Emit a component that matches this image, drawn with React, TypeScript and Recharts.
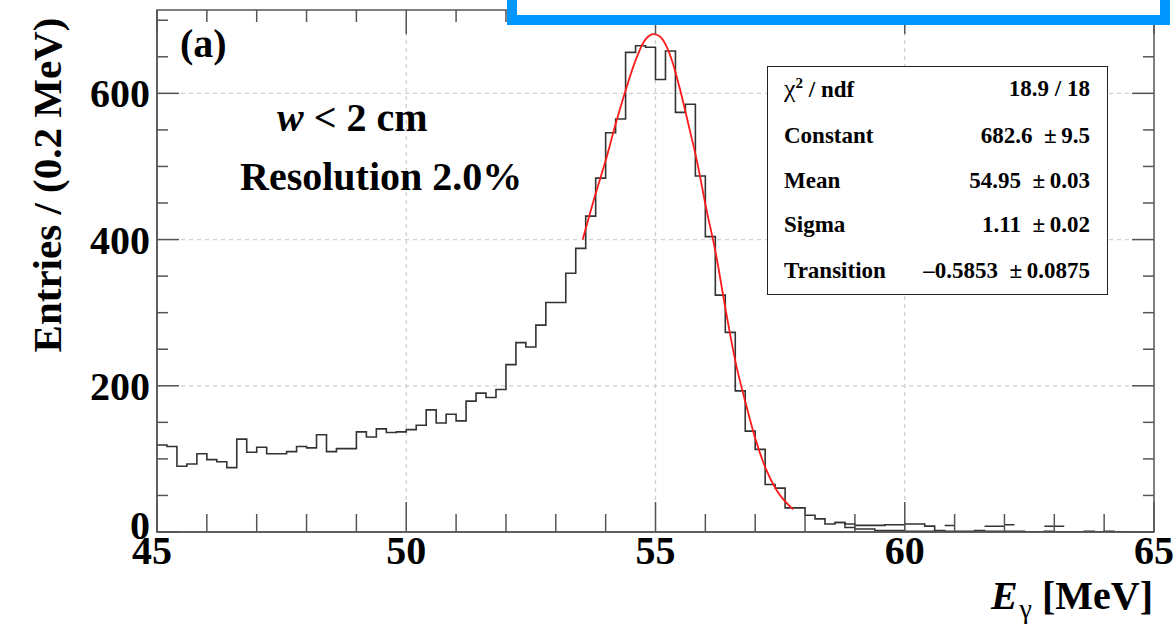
import { ComposedChart, Line, XAxis, YAxis, ReferenceLine, ReferenceArea } from 'recharts'

const W = 1176
const H = 625
const AX_H = 60
const AX_W = 60
const M = { top: 10, right: 22, bottom: 93 - AX_H, left: 157 - AX_W }
const PLOT_RIGHT = W - M.right

const X_MIN = 45
const X_MAX = 65
const BIN = 0.2
const Y_MAX = 714

const SERIF = '"Liberation Serif", "Times New Roman", serif'
const AXIS = '#555'

// entries per 0.2 MeV bin, 45.0 .. 65.0 MeV (100 bins)
const entries = [
  119, 117, 90, 93, 107, 99, 96, 88, 127, 109,
  116, 107, 107, 110, 117, 115, 133, 110, 114, 114,
  137, 130, 141, 136, 137, 140, 146, 167, 149, 161,
  152, 179, 190, 184, 195, 229, 259, 253, 283, 314,
  314, 354, 388, 432, 484, 546, 565, 656, 665, 663,
  619, 658, 574, 585, 487, 404, 324, 273, 193, 138,
  113, 65, 60, 33, 33, 23, 18, 11, 13, 11,
  9, 9, 9, 10, 10, 11, 11, 8, 2, 1,
  1, 1, 2, 1, 1, 1, 1, 0, 0, 1,
  0, 0, 0, 1, 0, 1, 0, 0, 0, 0,
]

// lower tail line that splits off the histogram at 58.6 MeV
const lowerStart = 58.6
const lowerEntries = [13, 6, 4, 4, 2, 2, 2, 1, 1, 1, 2]

// small isolated bars in the far tail
const barFrom = [60.8, 61.6, 62.0, 62.8]
const barTo = [61.0, 62.0, 62.2, 63.2]
const barVal = [9, 8, 10, 8]

// fitted curve
const fitE = [53.54, 53.8, 54.0, 54.2, 54.4, 54.6, 54.76, 54.86, 54.96, 55.06, 55.16, 55.33, 55.49, 55.69, 55.83, 56.01, 56.21, 56.41, 56.61, 56.81, 57.01, 57.21, 57.43, 57.76]
const fitN = [400, 463, 508, 558, 604, 645, 670, 678, 681, 679, 672, 645, 606, 549, 508, 445, 381, 303, 231, 176, 126, 87, 57, 31]

const xTicks = [45, 46, 47, 48, 49, 50, 51, 52, 53, 54, 55, 56, 57, 58, 59, 60, 61, 62, 63, 64, 65]
const yTicks = [0, 50, 100, 150, 200, 250, 300, 350, 400, 450, 500, 550, 600, 650, 700]
const xGrid = [50, 55, 60]
const yGrid = [200, 400, 600]

const statsRows = [
  { label: 'chi', value: '18.9 / 18' },
  { label: 'Constant', value: '682.6  \u00b1\u20099.5' },
  { label: 'Mean', value: '54.95  \u00b1\u20090.03' },
  { label: 'Sigma', value: '1.11  \u00b1\u20090.02' },
  { label: 'Transition', value: '\u20130.5853  \u00b1\u20090.0875' },
]
const statsCenters = [23, 70, 115, 159, 205]

const histData = entries.map((n, i) => ({ e: +(X_MIN + i * BIN).toFixed(1), n }))
histData.push({ e: X_MAX, n: entries[entries.length - 1] })

const lowerData = lowerEntries.map((n, i) => ({ e: +(lowerStart + i * BIN).toFixed(1), n }))

const barData: { e: number, n: number | null }[] = []
barFrom.forEach((f, i) => {
  barData.push({ e: f, n: barVal[i] })
  barData.push({ e: barTo[i], n: barVal[i] })
  barData.push({ e: barTo[i], n: null })
})

const fitData = fitE.map((e, i) => ({ e, n: fitN[i] }))

const XTick = (props: any) => {
  const { x, y, payload } = props
  const v = payload.value
  const major = v % 5 === 0
  return (
    <g>
      <line x1={x} x2={x} y1={y} y2={y - (major ? 30 : 18)} stroke={AXIS} strokeWidth={1.5} />
      <line x1={x} x2={x} y1={M.top} y2={M.top + (major ? 24 : 12)} stroke={AXIS} strokeWidth={1.5} />
      {major && (
        <text x={x} dx={v === X_MIN ? -5 : 0} y={y + 32} textAnchor="middle" fontFamily={SERIF} fontWeight="bold" fontSize={40} fill="#000">
          {v}
        </text>
      )}
    </g>
  )
}

const YTick = (props: any) => {
  const { x, y, payload } = props
  const v = payload.value
  const major = v % 200 === 0
  const len = major ? 22 : 11
  return (
    <g>
      <line x1={x} x2={x + len} y1={y} y2={y} stroke={AXIS} strokeWidth={1.5} />
      <line x1={PLOT_RIGHT} x2={PLOT_RIGHT - len} y1={y} y2={y} stroke={AXIS} strokeWidth={1.5} />
      {major && (
        <text x={x - 7} y={v === 0 ? y - 7 : y} dy="0.35em" textAnchor="end" fontFamily={SERIF} fontWeight="bold" fontSize={40} fill="#000">
          {v}
        </text>
      )}
    </g>
  )
}

const txt = { position: 'absolute' as const, fontFamily: SERIF, fontWeight: 'bold' as const, fontSize: 40, lineHeight: '40px', color: '#000', whiteSpace: 'nowrap' as const }

export default function App() {
  return (
    <div style={{ position: 'absolute', left: 0, top: 0, width: W, height: H, background: '#fff', overflow: 'hidden' }}>
      <ComposedChart width={W} height={H} margin={M}>
        <XAxis dataKey="e" type="number" domain={[X_MIN, X_MAX]} allowDataOverflow ticks={xTicks} interval={0}
          height={AX_H} tickSize={0} tickMargin={0} tickLine={false} axisLine={{ stroke: AXIS, strokeWidth: 1.5 }} tick={<XTick />} />
        <YAxis type="number" domain={[0, Y_MAX]} allowDataOverflow ticks={yTicks} interval={0}
          width={AX_W} tickSize={0} tickMargin={0} tickLine={false} axisLine={{ stroke: AXIS, strokeWidth: 1.5 }} tick={<YTick />} />
        {xGrid.map(g => (
          <ReferenceLine key={'gx' + g} x={g} stroke="#cfcfcf" strokeWidth={1.3} strokeDasharray="4 4" />
        ))}
        {yGrid.map(g => (
          <ReferenceLine key={'gy' + g} y={g} stroke="#cfcfcf" strokeWidth={1.3} strokeDasharray="4 4" />
        ))}
        <ReferenceArea x1={X_MIN} x2={X_MAX} y1={0} y2={Y_MAX} fill="none" stroke={AXIS} strokeWidth={1.5} />
        <Line data={lowerData} dataKey="n" type="stepAfter" stroke="#333" strokeWidth={1.5} dot={false} isAnimationActive={false} />
        <Line data={barData} dataKey="n" type="linear" stroke="#333" strokeWidth={1.5} dot={false} isAnimationActive={false} />
        <Line data={histData} dataKey="n" type="stepAfter" stroke="#333" strokeWidth={1.6} dot={false} isAnimationActive={false} />
        <Line data={fitData} dataKey="n" type="monotone" stroke="#ff1a1a" strokeWidth={1.8} dot={false} isAnimationActive={false} />
      </ComposedChart>

      <div style={{ ...txt, left: 47, top: 185, fontSize: 41, transform: 'translate(-50%, -50%) rotate(-90deg)' }}>
        Entries / (0.2 MeV)
      </div>

      <div style={{ ...txt, right: 23, top: 576 }}>
        <span style={{ fontStyle: 'italic' }}>E</span>
        <span style={{ fontSize: 28, fontWeight: 'normal', position: 'relative', top: 9, marginLeft: 2 }}>{'\u03b3'}</span>
        {' [MeV]'}
      </div>

      <div style={{ ...txt, left: 180, top: 24 }}>(a)</div>
      <div style={{ ...txt, left: 277, top: 98 }}>
        <span style={{ fontStyle: 'italic' }}>w</span> &lt; 2 cm
      </div>
      <div style={{ ...txt, left: 240, top: 157 }}>Resolution 2.0%</div>

      <div style={{ position: 'absolute', left: 767, top: 66, width: 341, height: 229, border: '1.5px solid #222', boxSizing: 'border-box', background: '#fff' }}>
        {statsRows.map((r, i) => (
          <div key={r.label} style={{
            position: 'absolute', left: 16, right: 17, top: statsCenters[i] - 14, height: 26, lineHeight: '26px',
            display: 'flex', justifyContent: 'space-between', fontFamily: SERIF, fontWeight: 'bold', fontSize: 23, color: '#000', whiteSpace: 'pre'
          }}>
            <span>
              {r.label === 'chi'
                ? <><span style={{ fontWeight: 'normal', fontSize: 26 }}>{'\u03c7'}</span><sup style={{ fontSize: 15, lineHeight: 0 }}>2</sup> / ndf</>
                : r.label}
            </span>
            <span>{r.value}</span>
          </div>
        ))}
      </div>

      <div style={{ position: 'absolute', left: 507, top: -20, width: 663, height: 45, border: '10px solid #0096ff', boxSizing: 'border-box', background: '#fff' }} />
    </div>
  )
}
